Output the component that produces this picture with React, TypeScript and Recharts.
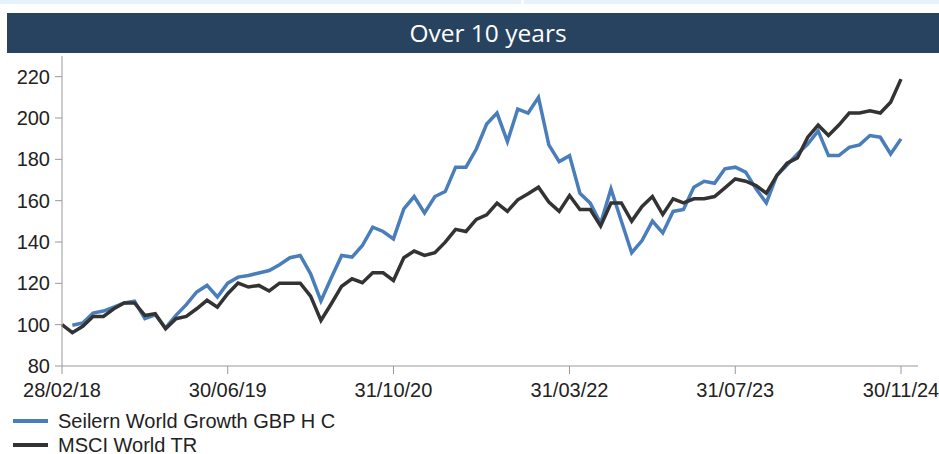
import { LineChart, Line, XAxis, YAxis } from "recharts"

// x positions are month indices: 0 = Feb 2018 ... 81 = Nov 2024
const tickIndex = [0, 16, 32, 49, 65, 81]
const tickLabels = ["28/02/18", "30/06/19", "31/10/20", "31/03/22", "31/07/23", "30/11/24"]
const yTicks = [80, 100, 120, 140, 160, 180, 200, 220]

const seilern: (number | null)[] = [
  null, 99.7, 100.8, 105.6, 106.6, 108.5, 110.5, 111.4, 102.9, 104.8,
  98.4, 104.5, 109.7, 115.8, 119, 113.4, 120.1, 123, 123.8, 125,
  126.2, 129, 132.4, 133.5, 124.6, 111.5, 122.7, 133.5, 132.7, 138.3,
  147.2, 145.1, 141.5, 156, 162, 154.1, 162, 164.4, 176.2, 176.2,
  185, 197.1, 202.4, 188.6, 204.3, 202.4, 210, 187, 178.9, 181.8,
  163.6, 158.8, 149, 165.7, 150.2, 134.8, 140.7, 150.1, 144.4, 154.8,
  155.7, 166.5, 169.4, 168.4, 175.4, 176.2, 173.8, 165.7, 158.9, 172.1,
  177.3, 182.6, 187.4, 193.8, 181.8, 181.8, 185.8, 187, 191.5, 190.7,
  182.6, 189.9,
]

const msciWorld = [
  100, 96.1, 99.2, 104, 104, 107.7, 110.5, 110.5, 104.5, 105.3,
  98, 102.9, 104, 107.7, 111.8, 108.5, 115, 120.1, 118.2, 119,
  116.3, 120.1, 120.1, 120.1, 113.8, 102, 110.1, 118.6, 122.2, 120.3,
  125.1, 125.1, 121.4, 132.4, 135.6, 133.5, 134.8, 139.9, 146.1, 145.1,
  150.9, 153.1, 158.8, 154.8, 160.4, 163.3, 166.5, 159.3, 154.8, 162.5,
  155.7, 155.7, 147.7, 158.9, 158.9, 150.1, 157.2, 162, 153.3, 160.9,
  158.9, 160.9, 160.9, 162, 166.2, 170.5, 169.4, 167.3, 163.6, 172.1,
  178.1, 180.7, 190.7, 196.6, 191.5, 196.6, 202.4, 202.4, 203.5, 202.4,
  207.6, 218.8,
]

const series = [
  { key: "seilern", name: "Seilern World Growth GBP H C", color: "#4a7ebb" },
  { key: "msci", name: "MSCI World TR", color: "#333333" },
]

const data = msciWorld.map((v, i) => ({ i, seilern: seilern[i], msci: v }))

const font = "'Liberation Sans', Arial, sans-serif"

export default function App() {
  return (
    <div style={{ position: "absolute", left: 0, top: 0, width: 939, height: 454, background: "#fff", overflow: "hidden" }}>
      <div style={{ position: "absolute", left: 0, top: 0, width: 521, height: 4, background: "#e6f2fc" }} />
      <div style={{ position: "absolute", left: 524, top: 0, width: 415, height: 4, background: "#e6f2fc" }} />
      <div
        style={{
          position: "absolute",
          left: 7,
          top: 13,
          width: 932,
          height: 40,
          background: "#27435f",
          color: "#fff",
          fontFamily: "'Open Sans', sans-serif",
          fontSize: 24.5,
          lineHeight: "40px",
          textAlign: "center",
          paddingLeft: 30,
          boxSizing: "border-box",
        }}
      >
        Over 10 years
      </div>
      <div style={{ position: "absolute", left: 0, top: 0 }}>
        <LineChart width={939} height={400} data={data} margin={{ top: 56, right: 21, left: 0, bottom: 0 }}>
          <XAxis
            dataKey="i"
            type="number"
            domain={[0, 81]}
            ticks={tickIndex}
            tickFormatter={(v) => tickLabels[tickIndex.indexOf(v)] ?? ""}
            padding={{ right: 17 }}
            height={34}
            stroke="#999999"
            tickSize={8}
            tickMargin={9}
            tick={{ fill: "#222", fontSize: 20, fontFamily: font }}
            interval={0}
          />
          <YAxis
            type="number"
            domain={[80, 230]}
            ticks={yTicks}
            width={62}
            stroke="#999999"
            tickSize={7}
            tickMargin={5}
            tick={{ fill: "#222", fontSize: 20, fontFamily: font }}
            interval={0}
          />
          {series.map((s) => (
            <Line
              key={s.key}
              dataKey={s.key}
              name={s.name}
              stroke={s.color}
              strokeWidth={3.5}
              dot={false}
              isAnimationActive={false}
              strokeLinejoin="miter"
            />
          ))}
        </LineChart>
      </div>
      {series.map((s, idx) => (
        <div
          key={s.key}
          style={{
            position: "absolute",
            left: 13,
            top: 409 + idx * 24,
            height: 24,
            display: "flex",
            alignItems: "center",
            fontFamily: font,
            fontSize: 20,
            color: "#222",
          }}
        >
          <span style={{ display: "inline-block", width: 35, height: 4, background: s.color, marginRight: 10 }} />
          {s.name}
        </div>
      ))}
    </div>
  )
}
